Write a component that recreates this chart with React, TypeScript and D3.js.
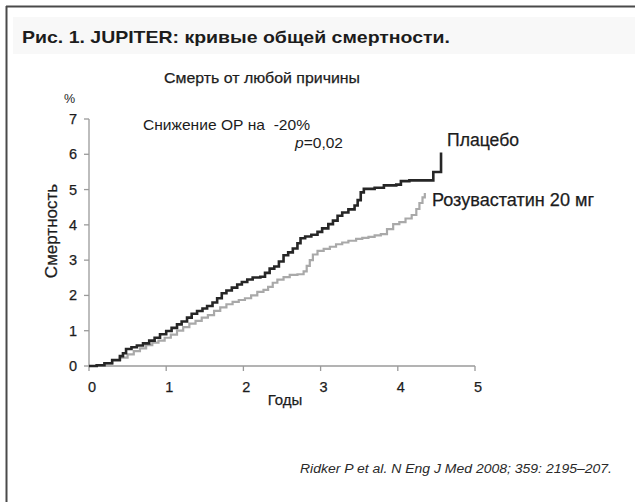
import React from "react";
import * as d3 from "d3";

const xTicks = [0, 1, 2, 3, 4, 5];
const yTicks = [0, 1, 2, 3, 4, 5, 6, 7];

// Placebo Kaplan–Meier (years, %)
const placeboT = [0, 0.1, 0.2, 0.3, 0.4, 0.44, 0.48, 0.55, 0.62, 0.7, 0.78, 0.85, 0.92, 1.0, 1.07, 1.14, 1.2, 1.27, 1.33, 1.4, 1.47, 1.53, 1.6, 1.66, 1.72, 1.78, 1.85, 1.92, 1.98, 2.05, 2.12, 2.22, 2.28, 2.34, 2.4, 2.46, 2.52, 2.58, 2.64, 2.7, 2.74, 2.8, 2.88, 2.96, 3.02, 3.1, 3.16, 3.22, 3.28, 3.36, 3.44, 3.48, 3.52, 3.56, 3.7, 3.82, 3.98, 4.04, 4.15, 4.46, 4.56];
const placeboY = [0, 0.02, 0.08, 0.17, 0.28, 0.36, 0.48, 0.53, 0.58, 0.64, 0.72, 0.8, 0.9, 0.99, 1.08, 1.18, 1.26, 1.37, 1.48, 1.56, 1.63, 1.7, 1.8, 1.92, 2.06, 2.14, 2.22, 2.31, 2.38, 2.45, 2.51, 2.53, 2.64, 2.76, 2.82, 2.96, 3.14, 3.22, 3.33, 3.48, 3.62, 3.67, 3.72, 3.8, 3.9, 4.02, 4.12, 4.26, 4.35, 4.44, 4.55, 4.7, 4.92, 5.02, 5.05, 5.12, 5.14, 5.24, 5.26, 5.5, 6.05];

// Rosuvastatin 20 mg
const rosuT = [0, 0.1, 0.2, 0.3, 0.4, 0.5, 0.58, 0.66, 0.74, 0.82, 0.9, 0.98, 1.06, 1.14, 1.22, 1.3, 1.38, 1.46, 1.54, 1.62, 1.7, 1.78, 1.86, 1.94, 2.02, 2.1, 2.18, 2.26, 2.32, 2.38, 2.44, 2.52, 2.6, 2.7, 2.78, 2.82, 2.86, 2.9, 2.96, 3.04, 3.12, 3.2, 3.28, 3.36, 3.46, 3.54, 3.62, 3.7, 3.78, 3.86, 3.94, 4.02, 4.1, 4.18, 4.24, 4.28, 4.32, 4.35];
const rosuY = [0, 0.02, 0.07, 0.15, 0.24, 0.33, 0.42, 0.5, 0.59, 0.66, 0.72, 0.8, 0.89, 1.0, 1.1, 1.2, 1.28, 1.37, 1.44, 1.56, 1.66, 1.75, 1.82, 1.87, 1.92, 2.0, 2.1, 2.16, 2.24, 2.36, 2.45, 2.52, 2.58, 2.6, 2.68, 2.84, 3.0, 3.16, 3.26, 3.32, 3.38, 3.45, 3.5, 3.55, 3.6, 3.63, 3.66, 3.7, 3.74, 3.88, 4.02, 4.08, 4.18, 4.28, 4.45, 4.62, 4.78, 4.9];

const FONT = '"Liberation Sans", Arial, sans-serif';

export default function App() {
  const x = d3.scaleLinear().domain([0, 5]).range([89, 475]);
  const y = d3.scaleLinear().domain([0, 7]).range([366, 119]);

  const line = d3
    .line<[number, number]>()
    .x((d) => x(d[0]))
    .y((d) => y(d[1]))
    .curve(d3.curveStepAfter);

  const placebo: [number, number][] = placeboT.map((t, i) => [t, placeboY[i]]);
  const rosu: [number, number][] = rosuT.map((t, i) => [t, rosuY[i]]);

  const axisColor = "#9a9a9a";
  const txt = "#1c1c1c";
  const heavy = { stroke: txt, strokeWidth: 0.25 } as const;

  return (
    <svg
      width={635}
      height={502}
      style={{ position: "absolute", left: 0, top: 0, background: "#fff" }}
      fontFamily={FONT}
    >
      <rect x={0} y={0} width={635} height={502} fill="#ffffff" />
      {/* title band */}
      <rect x={13} y={17} width={622} height={37} fill="#f8f8f8" />
      {/* frame */}
      <line x1={6} y1={6.5} x2={635} y2={6.5} stroke="#4a4a4a" strokeWidth={2} />
      <line x1={6.5} y1={6} x2={6.5} y2={502} stroke="#4a4a4a" strokeWidth={2} />

      <text x={22} y={43} fontSize={17} fontWeight="bold" fill={txt} textLength={428} lengthAdjust="spacingAndGlyphs">
        Рис. 1. JUPITER: кривые общей смертности.
      </text>
      <text x={164} y={83} fontSize={15.5} fill={txt} textLength={196} lengthAdjust="spacingAndGlyphs" {...heavy}>
        Смерть от любой причины
      </text>

      {/* y axis */}
      <line x1={89} y1={y(7)} x2={89} y2={y(0)} stroke={axisColor} strokeWidth={1.3} />
      {yTicks.map((t) => (
        <g key={"y" + t}>
          <line x1={84} x2={89} y1={y(t)} y2={y(t)} stroke={axisColor} strokeWidth={1.3} />
          <text x={77} y={y(t) + 5} fontSize={14.5} textAnchor="end" fill={txt} {...heavy}>
            {t}
          </text>
        </g>
      ))}
      <text x={64} y={103} fontSize={12.5} fill={txt}>
        %
      </text>
      <text
        transform={`translate(57, 231) rotate(-90)`}
        fontSize={17}
        textAnchor="middle"
        fill={txt}
        {...heavy}
      >
        Смертность
      </text>

      {/* x axis */}
      <line x1={x(0)} y1={366} x2={x(5)} y2={366} stroke={axisColor} strokeWidth={1.3} />
      {xTicks.map((t) => (
        <g key={"x" + t}>
          <line x1={x(t)} x2={x(t)} y1={366} y2={371} stroke={axisColor} strokeWidth={1.3} />
          <text x={x(t) + 3} y={392} fontSize={14.5} textAnchor="middle" fill={txt} {...heavy}>
            {t}
          </text>
        </g>
      ))}
      <text x={285} y={405} fontSize={15} textAnchor="middle" fill={txt} {...heavy}>
        Годы
      </text>

      {/* curves */}
      <path d={line(rosu) || ""} fill="none" stroke="#a9a9a9" strokeWidth={2.2} />
      <path d={line(placebo) || ""} fill="none" stroke="#262626" strokeWidth={2.6} />

      {/* annotations */}
      <text x={143} y={130} fontSize={14.5} fill={txt} textLength={167} lengthAdjust="spacingAndGlyphs" style={{ whiteSpace: "pre" }}>
        {"Снижение ОР на  -20%"}
      </text>
      <text x={295} y={148} fontSize={14.5} fill={txt} textLength={48} lengthAdjust="spacingAndGlyphs">
        <tspan fontStyle="italic">p</tspan>=0,02
      </text>
      <text x={447} y={146} fontSize={17.5} fill={txt} textLength={72} lengthAdjust="spacingAndGlyphs" {...heavy}>
        Плацебо
      </text>
      <text x={432} y={206} fontSize={17.5} fill={txt} textLength={162} lengthAdjust="spacingAndGlyphs" {...heavy}>
        Розувастатин 20 мг
      </text>

      <text x={300} y={473} fontSize={12.5} fontStyle="italic" fill="#2a2a2a" textLength={312} lengthAdjust="spacingAndGlyphs">
        Ridker P et al. N Eng J Med 2008; 359: 2195–207.
      </text>
    </svg>
  );
}
